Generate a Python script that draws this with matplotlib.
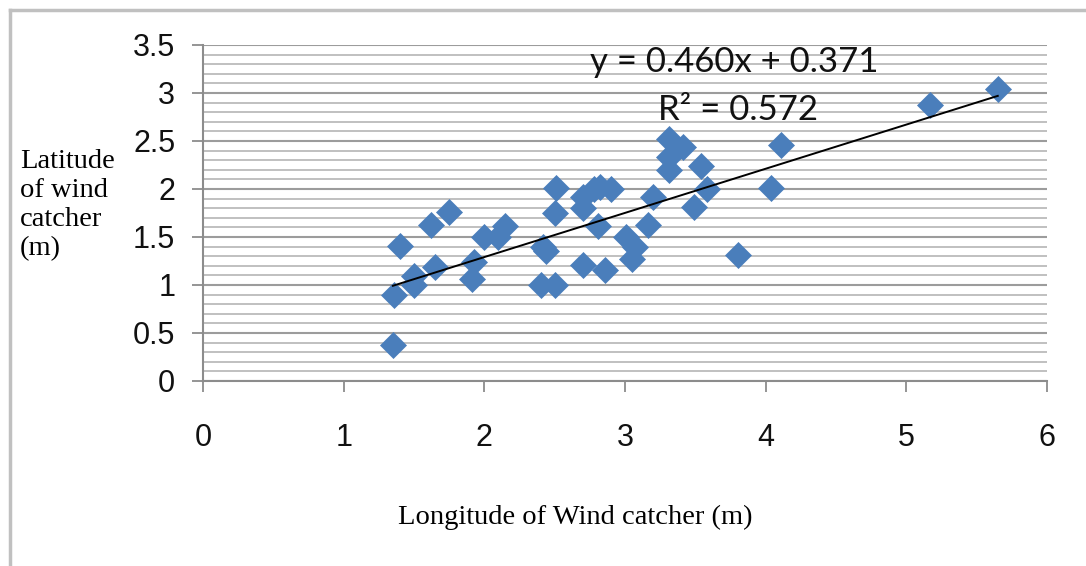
import matplotlib
matplotlib.use("Agg")
import matplotlib.pyplot as plt
from matplotlib.ticker import MultipleLocator
from matplotlib.lines import Line2D

# Wind catcher dimensions (m)
longitude = [1.35, 1.36, 1.40, 1.50, 1.50, 1.62, 1.65, 1.75, 1.91, 1.93,
             2.00, 2.10, 2.15, 2.40, 2.42, 2.44, 2.50, 2.50, 2.51, 2.70,
             2.70, 2.70, 2.78, 2.82, 2.90, 2.81, 2.86, 3.01, 3.07, 3.05,
             3.16, 3.20, 3.31, 3.31, 3.31, 3.41, 3.54, 3.58, 3.49, 3.80,
             4.04, 4.11, 5.17, 5.65]
latitude = [0.37, 0.90, 1.41, 1.09, 1.00, 1.62, 1.19, 1.76, 1.06, 1.24,
            1.50, 1.50, 1.61, 1.00, 1.40, 1.35, 1.00, 1.75, 2.01, 1.21,
            1.80, 1.92, 2.00, 2.02, 2.00, 1.61, 1.16, 1.50, 1.40, 1.27,
            1.62, 1.92, 2.52, 2.33, 2.20, 2.44, 2.24, 2.00, 1.81, 1.31,
            2.01, 2.46, 2.88, 3.04]

slope = 0.460
intercept = 0.371
r_squared = 0.572

x_ticks = [0, 1, 2, 3, 4, 5, 6]
y_ticks = [0, 0.5, 1, 1.5, 2, 2.5, 3, 3.5]

fig = plt.figure(figsize=(10.86, 5.66), dpi=100)
fig.patch.set_facecolor("white")
ax = fig.add_axes([203 / 1086, 1 - 381 / 566, (1047 - 203) / 1086, (381 - 45) / 566])

ax.set_xlim(0, 6)
ax.set_ylim(0, 3.5)
ax.set_xticks(x_ticks)
ax.set_yticks(y_ticks)
ax.set_xticklabels([f"{v:g}" for v in x_ticks])
ax.set_yticklabels([f"{v:g}" for v in y_ticks])
ax.yaxis.set_minor_locator(MultipleLocator(0.1))

ax.grid(which="major", axis="y", color="#9c9c9c", linewidth=1.5)
ax.grid(which="minor", axis="y", color="#c0c0c0", linewidth=1.4)
ax.set_axisbelow(True)

for side in ("top", "right"):
    ax.spines[side].set_visible(False)
for side in ("left", "bottom"):
    ax.spines[side].set_color("#8c8c8c")
    ax.spines[side].set_linewidth(1.5)

ax.tick_params(which="major", direction="out", length=8, width=1.3, color="#8c8c8c",
               labelsize=22, labelcolor="#111111")
ax.tick_params(axis="x", which="major", pad=22)
ax.tick_params(axis="y", which="major", pad=12)
ax.tick_params(which="minor", length=0)
for lab in ax.get_xticklabels() + ax.get_yticklabels():
    lab.set_fontfamily("Liberation Sans")

ax.plot(longitude, latitude, linestyle="none", marker="D", markersize=13.5,
        markerfacecolor="#4a7ebb", markeredgecolor="#4a7ebb", markeredgewidth=0.5,
        zorder=3)

x0, x1 = min(longitude), max(longitude)
ax.plot([x0, x1], [slope * x0 + intercept, slope * x1 + intercept],
        color="black", linewidth=1.4, zorder=4)

ax.text(2.75, 3.32, f"y = {slope:.3f}x + {intercept:.3f}", fontsize=25,
        family="Lato", ha="left", va="center", color="#111111")
ax.text(3.80, 2.82, f"R² = {r_squared:.3f}", fontsize=25,
        family="Lato", ha="center", va="center", color="#111111")

fig.text(20 / 1086, 1 - 205 / 566, "Latitude\nof wind\ncatcher\n(m)",
         family="Liberation Serif", fontsize=20.5, ha="left", va="center",
         linespacing=1.2)
fig.text(575 / 1086, 1 - 517 / 566, "Longitude of Wind catcher (m)",
         family="Liberation Serif", fontsize=20.5, ha="center", va="center")

# outer chart frame
fig.add_artist(Line2D([10 / 1086, 10 / 1086], [0, 1 - 10 / 566],
                      transform=fig.transFigure, color="#c0c0c0", linewidth=2.5))
fig.add_artist(Line2D([10 / 1086, 1], [1 - 10 / 566, 1 - 10 / 566],
                      transform=fig.transFigure, color="#c0c0c0", linewidth=2.5))

fig.savefig("out.png", dpi=100)
